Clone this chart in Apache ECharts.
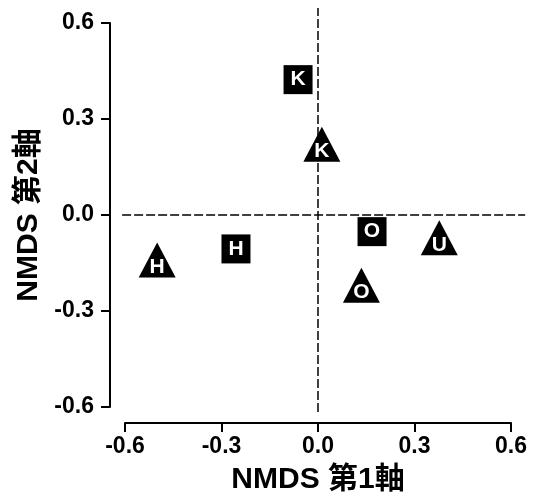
<!DOCTYPE html>
<html>
<head>
<meta charset="utf-8">
<script src="https://cdn.jsdelivr.net/npm/echarts@6/dist/echarts.min.js"></script>
<style>html,body{margin:0;padding:0;background:#fff;}#c{width:536px;height:500px;}</style>
</head>
<body>
<div id="c"></div>
<script>
// Data
const xTicks = [-0.6, -0.3, 0.0, 0.3, 0.6];
const yTicks = [-0.6, -0.3, 0.0, 0.3, 0.6];
const squarePts = [[-0.062, 0.423], [-0.255, -0.106], [0.168, -0.052]];
const squareLabels = ['K', 'H', 'O'];
const trianglePts = [[0.012, 0.202], [-0.500, -0.159], [0.135, -0.238], [0.377, -0.090]];
const triangleLabels = ['K', 'H', 'O', 'U'];
const refLineV = [[0, -0.616], [0, 0.647]];
const refLineH = [[-0.609, 0], [0.644, 0]];
const xName = 'NMDS 第1軸';
const yName = 'NMDS 第2軸';

const FONT = '"Liberation Sans", Arial, "Noto Sans CJK JP", sans-serif';

const chart = echarts.init(document.getElementById('c'), null, {renderer: 'canvas'});
const axisCommon = {
  type: 'value', min: -0.6, max: 0.6, interval: 0.3,
  splitLine: {show: false},
  axisLine: {show: true, onZero: false, lineStyle: {color: '#000', width: 2}},
  axisTick: {show: true, length: 9, lineStyle: {color: '#000', width: 2}},
  nameLocation: 'middle',
  nameTextStyle: {fontFamily: FONT, fontWeight: 'bold', fontSize: 30, color: '#000'}
};
const fmt = v => v.toFixed(1);
const dashStyle = {color: '#000', width: 1.5, type: [9, 3], opacity: 1, curveness: 0};

chart.setOption({
  animation: false,
  backgroundColor: '#fff',
  grid: {left: 125, right: 25, top: 23, bottom: 93, containLabel: false},
  xAxis: Object.assign({}, axisCommon, {
    offset: 16, name: xName, nameGap: 42,
    axisLabel: {formatter: fmt, margin: 12, fontFamily: FONT, fontWeight: 'bold', fontSize: 23, color: '#000', showMinLabel: true, showMaxLabel: true}
  }),
  yAxis: Object.assign({}, axisCommon, {
    offset: 15, name: yName, nameGap: 65,
    axisLabel: {formatter: fmt, margin: 16, fontFamily: FONT, fontWeight: 'bold', fontSize: 23, color: '#000', showMinLabel: true, showMaxLabel: true}
  }),
  series: [
    {type: 'lines', coordinateSystem: 'cartesian2d', clip: false, silent: true, z: 1,
     symbol: 'none', effect: {show: false},
     data: [{coords: refLineV}, {coords: refLineH}],
     lineStyle: dashStyle},
    {type: 'scatter', z: 3, clip: false,
     data: squarePts.map((p, i) => ({value: p, name: squareLabels[i]})),
     symbol: 'rect', symbolSize: [29, 29],
     itemStyle: {color: '#000', opacity: 1},
     label: {show: true, position: 'inside', formatter: p => p.name, color: '#fff',
             fontFamily: FONT, fontWeight: 'bold', fontSize: 21}},
    {type: 'scatter', z: 3, clip: false,
     data: trianglePts.map((p, i) => ({value: p, name: triangleLabels[i]})),
     symbol: 'triangle', symbolSize: [37, 35], symbolOffset: [0, -6],
     itemStyle: {color: '#000', opacity: 1},
     label: {show: true, position: 'inside', offset: [0, 7], formatter: p => p.name, color: '#fff',
             fontFamily: FONT, fontWeight: 'bold', fontSize: 21}}
  ]
});
</script>
</body>
</html>
